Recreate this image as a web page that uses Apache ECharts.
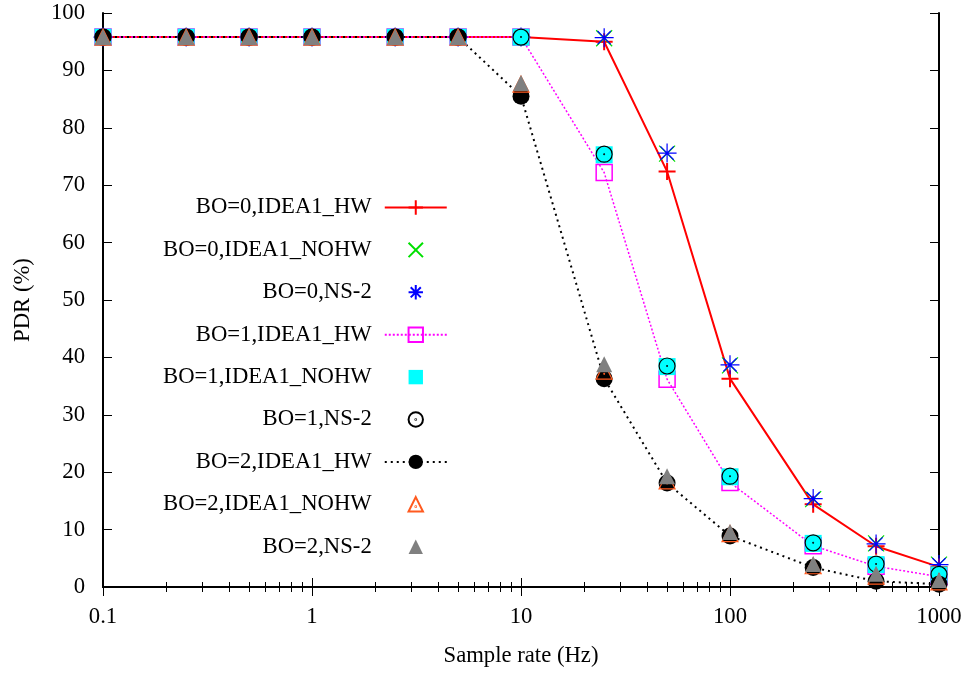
<!DOCTYPE html>
<html>
<head>
<meta charset="utf-8">
<script src="https://cdn.jsdelivr.net/npm/echarts@6/dist/echarts.min.js"></script>
<style>html,body{margin:0;padding:0;background:#fff}#c{width:969px;height:673px}</style>
</head>
<body>
<div id="c"></div>
<script>
const rates = [0.1, 0.25, 0.5, 1, 2.5, 5, 10, 25, 50, 100, 250, 500, 1000];
const bo0_hw   = [95.8, 95.8, 95.8, 95.8, 95.8, 95.8, 95.8, 95.0, 72.4, 36.3, 14.4, 7.1, 3.5];
const bo0_nohw = [95.8, 95.8, 95.8, 95.8, 95.8, 95.8, 95.8, 95.6, 75.5, 38.6, 15.3, 7.6, 3.9];
const bo0_ns2  = [95.8, 95.8, 95.8, 95.8, 95.8, 95.8, 95.8, 95.7, 75.6, 38.7, 15.4, 7.5, 3.9];
const bo1_hw   = [95.8, 95.8, 95.8, 95.8, 95.8, 95.8, 95.8, 72.2, 36.2, 18.2, 7.2, 3.6, 1.8];
const bo1_nohw = [95.8, 95.8, 95.8, 95.8, 95.8, 95.8, 95.8, 75.3, 38.4, 19.2, 7.6, 3.9, 2.1];
const bo1_ns2  = [95.8, 95.8, 95.8, 95.8, 95.8, 95.8, 95.8, 75.4, 38.5, 19.3, 7.7, 4.0, 2.2];
const bo2_hw   = [95.8, 95.8, 95.8, 95.8, 95.8, 95.8, 85.5, 36.3, 18.1, 8.9, 3.4, 1.0, 0.5];
const bo2_nohw = [95.8, 95.8, 95.8, 95.8, 95.8, 95.8, 87.6, 37.6, 18.5, 9.3, 3.7, 1.9, 0.9];
const bo2_ns2  = [95.8, 95.8, 95.8, 95.8, 95.8, 95.8, 87.8, 38.8, 19.3, 9.6, 4.0, 2.3, 1.2];
const names = ['BO=0,IDEA1_HW','BO=0,IDEA1_NOHW','BO=0,NS-2','BO=1,IDEA1_HW','BO=1,IDEA1_NOHW','BO=1,NS-2','BO=2,IDEA1_HW','BO=2,IDEA1_NOHW','BO=2,NS-2'];

const FONT = 'Liberation Serif';
const FS = 22.7;
const pair = arr => rates.map((r, i) => [r, arr[i]]);
const PLUS = 'path://M0,5L10,5M5,0L5,10';
const CROSS = 'path://M0,0L10,10M0,10L10,0';
const STAR = 'path://M0,5L10,5M5,0L5,10M1.5,1.5L8.5,8.5M1.5,8.5L8.5,1.5';
const CIRC_DOT = 'path://M10,5A5,5 0 1 1 0,5A5,5 0 1 1 10,5ZM5.25,5A0.25,0.25 0 1 1 4.75,5A0.25,0.25 0 1 1 5.25,5Z';
const TRI_DOT = 'path://M5,0L10,9L0,9ZM5.25,6A0.25,0.25 0 1 1 4.75,6A0.25,0.25 0 1 1 5.25,6Z';

function pts(name, data, symbol, size, fill, stroke, bw) {
  return { name, type: 'line', data: pair(data), symbol, symbolSize: size,
    showSymbol: true, lineStyle: { width: 0, opacity: 0 },
    itemStyle: { color: fill, borderColor: stroke, borderWidth: bw, opacity: 1 },
    emphasis: { disabled: true } };
}

const series = [
  { name: names[0], type: 'line', data: pair(bo0_hw), symbol: PLUS, symbolSize: 17,
    lineStyle: { color: '#ff0000', width: 2 },
    itemStyle: { color: 'none', borderColor: '#ff0000', borderWidth: 2 }, emphasis: { disabled: true } },
  pts(names[1], bo0_nohw, CROSS, 16, 'none', '#00e000', 1.2),
  pts(names[2], bo0_ns2, STAR, 19, 'none', '#0000ff', 1.2),
  { name: names[3], type: 'line', data: pair(bo1_hw), symbol: 'rect', symbolSize: 16,
    lineStyle: { color: '#ff00ff', width: 1.5, type: [2, 2] },
    itemStyle: { color: 'none', borderColor: '#ff00ff', borderWidth: 1.5 }, emphasis: { disabled: true } },
  pts(names[4], bo1_nohw, 'rect', 17, '#00ffff', '#00ffff', 0),
  pts(names[5], bo1_ns2, CIRC_DOT, 16, 'none', '#000000', 1.2),
  { name: names[6], type: 'line', data: pair(bo2_hw), symbol: 'circle', symbolSize: 17,
    lineStyle: { color: '#000000', width: 2, type: [2, 4] },
    itemStyle: { color: '#000000', borderWidth: 0 }, emphasis: { disabled: true } },
  pts(names[7], bo2_nohw, TRI_DOT, 16, 'none', '#ff5a1f', 1.2),
  pts(names[8], bo2_ns2, 'triangle', 16, '#808080', '#808080', 0)
];

const axisLine = { show: true, lineStyle: { color: '#000', width: 2 } };
const tick = { show: true, inside: true, length: 9, lineStyle: { color: '#000', width: 1 } };
const minor = { show: true, splitNumber: 9, length: 5, lineStyle: { color: '#000', width: 1 } };
const chart = echarts.init(document.getElementById('c'), null, { renderer: 'canvas' });
chart.setOption({
  animation: false,
  backgroundColor: '#ffffff',
  grid: { left: 103, right: 30, top: 13, bottom: 85, containLabel: false },
  legend: {
    data: names, orient: 'vertical', align: 'right', left: 163, top: 196,
    itemWidth: 62, itemHeight: 18, itemGap: 19.4, padding: 0,
    textStyle: { fontFamily: FONT, fontSize: FS, color: '#000', padding: [0, 8, 0, 0] },
    selectedMode: false
  },
  xAxis: [
    { type: 'log', logBase: 10, min: 0.1, max: 1000, position: 'bottom',
      axisLine, splitLine: { show: false }, axisTick: tick, minorTick: minor,
      axisLabel: { fontFamily: FONT, fontSize: FS, color: '#000', margin: 19,
        formatter: v => String(v) },
      name: 'Sample rate (Hz)', nameLocation: 'middle', nameGap: 58,
      nameTextStyle: { fontFamily: FONT, fontSize: FS, color: '#000' } },
    { type: 'log', logBase: 10, min: 0.1, max: 1000, position: 'top',
      axisLine, splitLine: { show: false }, axisTick: tick, minorTick: minor,
      axisLabel: { show: false } }
  ],
  yAxis: [
    { type: 'value', min: 0, max: 100, interval: 10, position: 'left',
      axisLine, splitLine: { show: false }, axisTick: tick,
      axisLabel: { fontFamily: FONT, fontSize: FS, color: '#000', margin: 18 },
      name: 'PDR (%)', nameLocation: 'middle', nameGap: 68, nameRotate: 90,
      nameTextStyle: { fontFamily: FONT, fontSize: FS, color: '#000' } },
    { type: 'value', min: 0, max: 100, interval: 10, position: 'right',
      axisLine, splitLine: { show: false }, axisTick: tick,
      axisLabel: { show: false } }
  ],
  series
});
</script>
</body>
</html>
